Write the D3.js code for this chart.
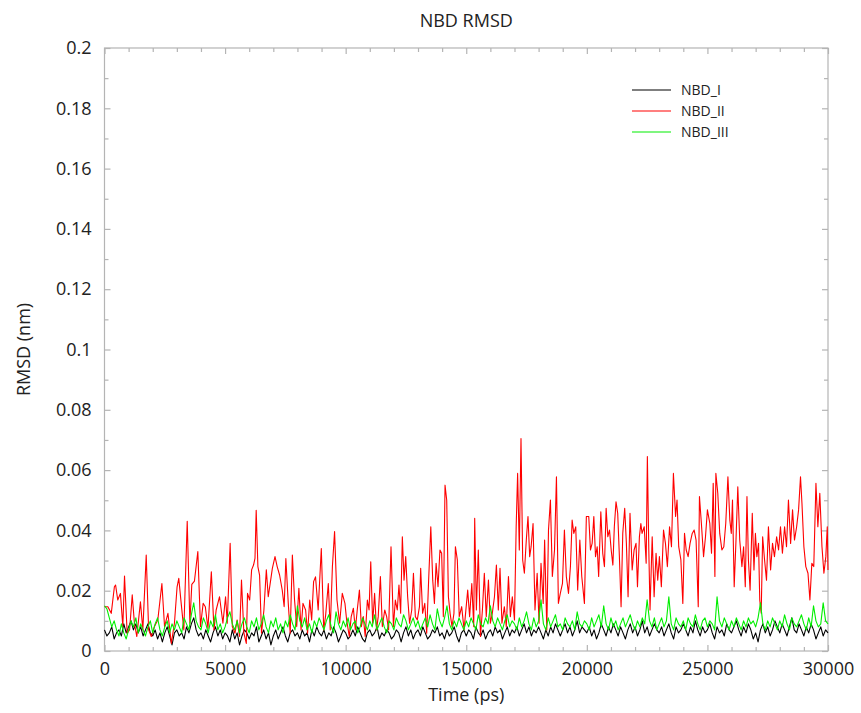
<!DOCTYPE html>
<html>
<head>
<meta charset="utf-8">
<script src="https://cdn.jsdelivr.net/npm/d3@7"></script>
<style>
  body { margin: 0; background: #fff; }
  text { font-family: "Open Sans", sans-serif; fill: #222; }
</style>
</head>
<body>
<div id="chart"></div>
<script>
// ----------------
// NBD RMSD
// ----------------

// series names + colours (legend order)
const seriesNames = ["NBD_I", "NBD_II", "NBD_III"];
const seriesColors = ["#000000", "#ff0000", "#00ee00"];

// axis ticks
const xMajorTicks = [0, 5000, 10000, 15000, 20000, 25000, 30000];
const yMajorTicks = [0, 0.02, 0.04, 0.06, 0.08, 0.1, 0.12, 0.14, 0.16, 0.18, 0.2];
const yTickLabels = ["0", "0.02", "0.04", "0.06", "0.08", "0.1", "0.12", "0.14", "0.16", "0.18", "0.2"];

// NBD_I and NBD_III read every 100 ps (one row = 1000 ps), values in pm (0.001 nm)
const stepPs = 100;
const nbdI_pm = [
    7,5,6,8,4,6,7,5,9,6,
    8,10,7,9,6,8,5,7,9,6,
    5,7,4,6,3,6,8,5,2,6,
    7,5,6,4,8,6,9,11,7,5,
    6,4,7,5,3,6,8,5,7,4,
    6,5,3,7,4,6,2,5,7,6,
    4,6,5,8,3,5,7,4,6,2,
    5,7,4,6,8,5,3,6,7,5,
    6,4,7,5,6,3,7,5,8,6,
    5,7,4,6,5,8,6,3,5,7,
    6,4,5,7,5,8,6,4,3,6,
    7,5,6,8,4,6,5,7,6,4,
    5,7,6,3,6,8,5,7,4,6,
    7,5,8,6,4,5,7,6,8,5,
    6,4,7,5,6,8,5,3,6,7,
    5,7,6,4,8,6,5,7,4,6,
    7,5,8,6,7,4,6,8,5,7,
    6,8,5,7,9,6,8,5,7,6,
    8,6,4,7,5,8,6,9,7,5,
    7,9,6,8,5,7,10,6,8,7,
    6,8,5,7,4,6,9,7,5,8,
    6,9,7,5,8,6,4,7,9,6,
    8,5,7,10,6,8,5,7,9,7,
    6,8,5,7,9,6,4,8,6,7,
    9,7,5,8,6,10,7,5,8,6,
    7,9,6,4,8,6,7,5,9,7,
    6,8,10,7,5,8,6,9,7,4,
    6,3,7,9,6,8,5,7,10,8,
    6,9,7,5,8,11,7,6,9,7,
    5,8,6,9,7,4,6,8,5,7,
    6
];
const nbdIII_pm = [
    15,14,11,8,10,7,5,9,6,4,
    7,10,8,11,6,9,7,5,8,10,
    6,9,11,7,5,8,10,6,9,7,
    10,8,6,11,9,7,12,16,10,8,
    7,11,9,6,10,8,12,7,9,6,
    8,11,13,9,7,10,6,9,11,8,
    6,10,8,11,7,9,12,8,6,10,
    8,11,7,9,6,10,8,12,9,7,
    15,10,8,11,7,9,6,10,8,11,
    9,7,10,12,8,6,13,9,7,10,
    8,11,7,9,10,6,8,11,9,7,
    10,8,12,7,9,11,8,6,10,9,
    7,11,9,8,12,10,7,9,11,8,
    10,7,9,11,8,12,9,7,14,10,
    8,11,15,9,7,10,8,11,9,7,
    10,8,11,9,7,12,9,8,11,9,
    15,10,8,11,9,7,10,12,8,10,
    9,7,11,8,10,13,9,7,11,8,
    10,17,9,7,11,8,10,12,8,9,
    7,11,9,8,10,7,13,9,8,10,
    9,7,11,8,10,12,8,15,9,7,
    11,8,10,7,9,11,8,10,12,9,
    7,10,8,11,9,17,10,8,11,7,
    9,11,8,10,18,9,7,11,9,8,
    10,7,11,9,8,12,9,7,10,11,
    8,10,9,7,18,10,8,11,9,7,
    10,8,11,9,7,10,8,11,9,10,
    8,11,16,9,7,10,8,11,9,7,
    10,8,12,9,7,11,9,8,10,12,
    9,7,11,8,15,10,8,9,16,10,
    9
];

// NBD_II read at its turning points: [time (ps), RMSD (pm)]
const nbdII_pm = [
    [0,14.7],[140,14.7],[280,12.5],[410,21.3],[460,21.9],[550,16.9],[660,19.1],[760,8.1],[830,24.9],[940,5.9],
    [1040,7],[1150,18.6],[1240,9.2],[1340,4.8],[1490,16.3],[1590,7],[1730,31.8],[1830,7],[1940,4.8],[2070,8.1],
    [2210,10.3],[2380,22.4],[2490,8.1],[2630,12.5],[2770,2.5],[2900,9.2],[3010,21.3],[3080,24.1],[3180,15.8],[3290,7],
    [3430,43],[3540,9.2],[3620,22.1],[3730,23.2],[3870,33],[3980,8.1],[4090,15.8],[4180,14.7],[4290,7.5],[4430,26.3],
    [4540,7],[4630,13.6],[4770,18],[4910,9.2],
    [5020,18],[5090,9.2],[5210,35.7],[5300,8.1],[5410,5.9],[5500,10.3],[5600,4.8],[5680,23.5],[5780,5.9],[5880,2.5],
    [5930,19.1],[6020,16.9],[6100,26.9],[6180,28.5],[6240,30.7],[6290,46.7],[6360,28],[6430,25.2],[6510,5.9],[6610,13.6],
    [6710,26.9],[6790,18],[6890,23.5],[6960,27.4],[7070,31.3],[7160,28],[7260,25.2],[7370,20.2],[7450,14.7],[7520,30.7],
    [7620,15.8],[7700,5.9],[7790,31.8],[7880,16.9],[7970,8.1],[8060,20.8],[8150,7],[8230,15.8],[8340,13.6],[8420,5.9],
    [8510,16.9],[8590,10.3],[8670,23],[8750,24.6],[8860,13.6],[8990,34],[9090,7],[9170,11.9],[9280,22.4],[9360,7],
    [9450,28],[9540,39.6],[9640,16.9],[9750,9.2],[9860,19.1],[9970,15.8],
    [10040,10.3],[10150,4.8],[10230,11.4],[10320,14.2],[10400,7],[10480,13.6],[10570,20.2],[10650,8.1],[10730,11.4],[10810,4.8],
    [10900,16.9],[10970,13.6],[11040,29.6],[11120,9.2],[11200,19.1],[11280,7],[11350,11.4],[11440,24.7],[11520,8.1],[11620,13.6],
    [11700,11.4],[11780,7],[11880,34.6],[11980,8.1],[12060,16.9],[12140,13.6],[12210,21.9],[12280,12.5],[12350,37.9],[12420,23.5],
    [12490,31.3],[12570,18],[12650,9.2],[12740,13.6],[12810,25.8],[12890,11.4],[12970,10.3],[13060,14.7],[13110,27.4],[13190,12.5],
    [13280,15.8],[13360,5.9],[13440,23.5],[13530,41.2],[13610,23.5],[13680,15.8],[13750,29.1],[13830,21.3],[13910,33.5],[13980,32.4],
    [14050,11.4],[14120,55],[14190,50],[14260,18],[14330,12.5],[14410,8.1],[14490,12.5],[14550,34.6],[14630,30.2],[14710,11.4],
    [14810,14.7],[14910,7],
    [15060,20.2],[15140,11.4],[15230,22.4],[15310,8.1],[15350,44],[15420,13.6],[15500,33.5],[15590,4.8],[15670,13.6],[15750,25.8],
    [15830,11.4],[15920,23.5],[16000,9.2],[16080,12.5],[16170,18],[16250,28.5],[16330,13.6],[16400,27.4],[16480,9.2],[16580,14.7],
    [16660,8.1],[16750,24.7],[16830,11.4],[16910,18],[17000,10.3],[17070,41.2],[17130,58.9],[17200,33.5],[17270,70.5],[17340,30.2],
    [17410,25.8],[17490,36.8],[17560,44.6],[17630,31.3],[17690,34.6],[17770,42.3],[17850,13.6],[17940,25.8],[18020,9.2],[18100,29.1],
    [18190,15.8],[18250,36.8],[18340,7],[18410,40.1],[18490,50.1],[18570,24.7],[18660,33.5],[18740,57.8],[18820,15.8],[18900,19.1],
    [18990,22.4],[19070,40.1],[19150,24.7],[19240,19.1],[19320,28],[19390,43.4],[19460,39],[19540,41.2],[19620,20.2],[19710,36.8],
    [19790,24.7],[19900,15.8],[19980,44.6],
    [20080,44.6],[20150,33.5],[20220,35.7],[20290,44.6],[20360,31.3],[20430,34.6],[20490,24.7],[20580,46.2],[20660,32.4],[20730,28],
    [20800,47.3],[20870,37.9],[20940,40.1],[21010,33.5],[21080,28.5],[21140,41.2],[21210,49.5],[21280,45.7],[21350,31.3],[21420,14.7],
    [21490,39],[21570,47.3],[21640,35.7],[21710,18],[21790,45.7],[21880,26.9],[21960,33.5],[22040,35.7],[22100,21.3],[22180,37.9],
    [22240,42.3],[22290,39],[22380,41.2],[22460,29.1],[22510,64.5],[22570,33.5],[22620,13.6],[22710,37.9],[22790,18],[22870,32.4],
    [22940,23.5],[23010,31.3],[23090,21.3],[23180,40.1],[23260,35.7],[23340,28],[23430,41.2],[23510,34.6],[23590,58.9],[23680,44.6],
    [23740,50.1],[23810,34.6],[23900,30.2],[23980,15.8],[24050,39],[24120,33.5],[24200,31.3],[24280,35.7],[24370,39],[24450,40.1],
    [24530,36.8],[24620,14.7],[24670,51.2],[24750,42.3],[24840,31.3],[24920,37.9],[25000,46.8],
    [25100,42.3],[25170,32.4],[25240,55.6],[25310,24.7],[25350,58.9],[25430,52.3],[25510,39],[25600,33.5],[25680,34.6],[25760,42.3],
    [25850,57.8],[25930,43.4],[25990,39],[26040,50.1],[26110,21.3],[26180,35.7],[26260,54.5],[26340,36.8],[26430,28],[26500,34.6],
    [26570,21.3],[26640,51.2],[26700,30.2],[26770,20.2],[26860,45.7],[26930,26.9],[26990,39],[27050,31.3],[27120,35.7],[27170,16.9],
    [27230,12.5],[27290,37.9],[27370,30.2],[27450,23.5],[27530,41.2],[27620,26.9],[27700,35.7],[27780,31.3],[27870,37.9],[27950,33.5],
    [28030,41.2],[28110,32.4],[28200,41.2],[28280,34.6],[28360,50.1],[28450,35.7],[28530,46.8],[28610,36.8],[28700,41.2],[28780,46.8],
    [28860,57.8],[28920,49],[29000,34.6],[29080,28],[29170,25.8],[29250,16.9],[29330,29.1],[29410,28],[29500,55.6],[29580,41.2],
    [29660,52.3],[29750,34.6],[29830,25.8],[29910,31.3],[29970,41.2],[30000,26.9]
];

// set the dimensions and margins of the graph
const margin = { top: 48, right: 33, bottom: 62, left: 104.5 },
    width = 861 - margin.left - margin.right,
    height = 713 - margin.top - margin.bottom;

const svgRoot = d3.select("#chart")
    .append("svg")
    .attr("width", 861)
    .attr("height", 713);

const svg = svgRoot.append("g")
    .attr("transform", `translate(${margin.left},${margin.top})`);

// scales
const x = d3.scaleLinear().domain([0, 30000]).range([0, width]);
const y = d3.scaleLinear().domain([0, 0.2]).range([height, 0]);

const xMinor = d3.range(0, 30001, 1000).filter(v => v % 5000 !== 0);
const yMinor = d3.range(1, 20, 2).map(v => v / 100);

// frame
svg.append("rect")
    .attr("width", width)
    .attr("height", height)
    .attr("fill", "none")
    .attr("stroke", "#b4b4b4")
    .attr("stroke-width", 1.2);

// ticks point inwards on all four sides
function styleAxis(g) {
    g.select(".domain").remove();
    g.selectAll(".tick line").attr("stroke", "#b4b4b4").attr("stroke-width", 1.2);
    g.selectAll("text").style("font-size", "18px").attr("fill", "#222");
}

svg.append("g")
    .attr("transform", `translate(0,${height})`)
    .call(d3.axisBottom(x).tickValues(xMajorTicks).tickSize(-6).tickPadding(11).tickFormat(d3.format("d")))
    .call(styleAxis);
svg.append("g")
    .attr("transform", `translate(0,${height})`)
    .call(d3.axisBottom(x).tickValues(xMinor).tickSize(-4).tickFormat(""))
    .call(styleAxis);
svg.append("g")
    .call(d3.axisTop(x).tickValues(xMajorTicks).tickSize(-6).tickFormat(""))
    .call(styleAxis);
svg.append("g")
    .call(d3.axisTop(x).tickValues(xMinor).tickSize(-4).tickFormat(""))
    .call(styleAxis);

svg.append("g")
    .call(d3.axisLeft(y).tickValues(yMajorTicks).tickSize(-6).tickPadding(13).tickFormat((d, i) => yTickLabels[i]))
    .call(styleAxis);
svg.append("g")
    .call(d3.axisLeft(y).tickValues(yMinor).tickSize(-4).tickFormat(""))
    .call(styleAxis);
svg.append("g")
    .attr("transform", `translate(${width},0)`)
    .call(d3.axisRight(y).tickValues(yMajorTicks).tickSize(-6).tickFormat(""))
    .call(styleAxis);
svg.append("g")
    .attr("transform", `translate(${width},0)`)
    .call(d3.axisRight(y).tickValues(yMinor).tickSize(-4).tickFormat(""))
    .call(styleAxis);

// titles
svgRoot.append("text")
    .attr("x", margin.left + width / 2)
    .attr("y", 27)
    .attr("text-anchor", "middle")
    .style("font-size", "18px")
    .text("NBD RMSD");

svgRoot.append("text")
    .attr("x", margin.left + width / 2)
    .attr("y", 701)
    .attr("text-anchor", "middle")
    .style("font-size", "18px")
    .text("Time (ps)");

svgRoot.append("text")
    .attr("transform", `translate(30,${margin.top + height / 2}) rotate(-90)`)
    .attr("text-anchor", "middle")
    .style("font-size", "18px")
    .text("RMSD (nm)");

// series -> [time, nm]
const seriesData = [
    nbdI_pm.map((v, i) => [i * stepPs, v / 1000]),
    nbdII_pm.map(d => [d[0], d[1] / 1000]),
    nbdIII_pm.map((v, i) => [i * stepPs, v / 1000])
];

const line = d3.line()
    .x(d => x(d[0]))
    .y(d => y(d[1]));

svg.append("g")
    .selectAll("path")
    .data(seriesData)
    .join("path")
    .attr("d", line)
    .attr("fill", "none")
    .attr("stroke", (d, i) => seriesColors[i])
    .attr("stroke-width", 1.1)
    .attr("stroke-linejoin", "round");

// legend
const legend = svgRoot.append("g")
    .attr("transform", "translate(632,90)");

const legendRows = legend.selectAll("g")
    .data(seriesNames)
    .join("g")
    .attr("transform", (d, i) => `translate(0,${i * 21})`);

legendRows.append("line")
    .attr("x1", 0).attr("x2", 39)
    .attr("stroke", (d, i) => seriesColors[i])
    .attr("stroke-width", 1.2);

legendRows.append("text")
    .attr("x", 49)
    .attr("y", 5)
    .style("font-size", "14px")
    .text(d => d);
</script>
</body>
</html>
